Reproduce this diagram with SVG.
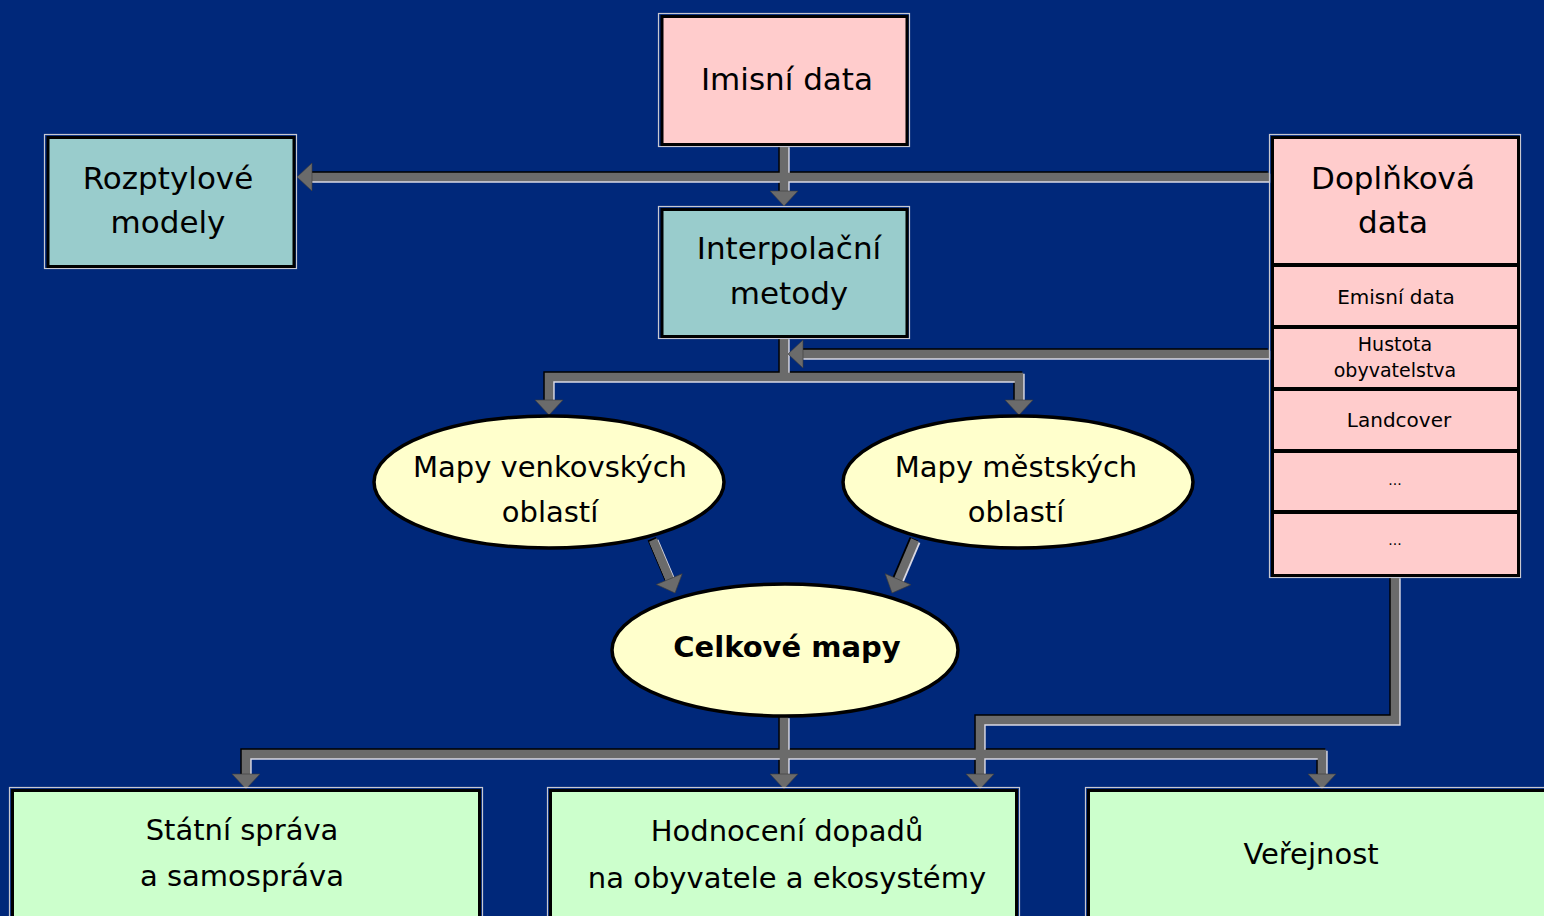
<svg xmlns="http://www.w3.org/2000/svg" xmlns:xlink="http://www.w3.org/1999/xlink" width="1544" height="916" viewBox="0 0 1544 916">
<style>
text{font-family:"DejaVu Sans",sans-serif;fill:#000;text-anchor:middle}
.t31{font-size:31px}
.t29{font-size:29px}
.t20{font-size:20px}
.t19{font-size:19px}
.t14{font-size:14px}
.b{font-weight:bold}
.edge{fill:none;stroke:#c8c8d0;stroke-width:1.2}
.box{stroke:#000;stroke-width:3}
.pink{fill:#ffcccc}
.teal{fill:#99cccc}
.green{fill:#ccffcc}
.ell{fill:#ffffcc;stroke:#000;stroke-width:3.5}
.sep{stroke:#000;stroke-width:4}
.ah{fill:#6b6b6b;stroke:#3a3a3a;stroke-width:0.6}
</style>
<defs>
<path id="c1" d="M784 146 V193"/>
<path id="c2" d="M1269 177 H310"/>
<path id="c3" d="M1269 354 H802"/>
<path id="c4" d="M784 338 V377"/>
<path id="c5" d="M549 401 V377 H1019 V401"/>
<path id="c6" d="M653 540 L670 580"/>
<path id="c7" d="M915 540 L898 580"/>
<path id="c8" d="M784 717 V776"/>
<path id="c9" d="M246 776 V754 H1322 V776"/>
<path id="c10" d="M1395 577 V720 H980 V776"/>
</defs>
<rect width="1544" height="916" fill="#00287a"/>

<g id="connectors" fill="none">
<g transform="translate(-1.2,-1.2)" stroke="#000" stroke-width="9">
<use href="#c1"/><use href="#c2"/><use href="#c3"/><use href="#c4"/><use href="#c5"/><use href="#c6"/><use href="#c7"/><use href="#c8"/><use href="#c9"/><use href="#c10"/>
</g>
<g transform="translate(1.2,1.2)" stroke="#d8d8e4" stroke-width="9">
<use href="#c1"/><use href="#c2"/><use href="#c3"/><use href="#c4"/><use href="#c5"/><use href="#c6"/><use href="#c7"/><use href="#c8"/><use href="#c9"/><use href="#c10"/>
</g>
<g stroke="#6b6b6b" stroke-width="8.5">
<use href="#c1"/><use href="#c2"/><use href="#c3"/><use href="#c4"/><use href="#c5"/><use href="#c6"/><use href="#c7"/><use href="#c8"/><use href="#c9"/><use href="#c10"/>
</g>
<g class="ah">
<polygon points="-14,-15 14,-15 0,0" transform="translate(784,206)"/>
<polygon points="-14,-15 14,-15 0,0" transform="translate(297,177) rotate(90)"/>
<polygon points="-14,-15 14,-15 0,0" transform="translate(788,354) rotate(90)"/>
<polygon points="-14,-15 14,-15 0,0" transform="translate(549,415)"/>
<polygon points="-14,-15 14,-15 0,0" transform="translate(1019,415)"/>
<polygon points="-14,-15 14,-15 0,0" transform="translate(675,593) rotate(-22.5)"/>
<polygon points="-14,-15 14,-15 0,0" transform="translate(892,593) rotate(23.5)"/>
<polygon points="-14,-15 14,-15 0,0" transform="translate(246,789)"/>
<polygon points="-14,-15 14,-15 0,0" transform="translate(784,789)"/>
<polygon points="-14,-15 14,-15 0,0" transform="translate(980,789)"/>
<polygon points="-14,-15 14,-15 0,0" transform="translate(1322,789)"/>
</g>
</g>

<g id="imisni">
<rect class="edge" x="658.5" y="13.5" width="251" height="133"/>
<rect class="box pink" x="662" y="16.5" width="245" height="128"/>
<text class="t31" x="787" y="90">Imisní data</text>
</g>

<g id="rozptylove">
<rect class="edge" x="44.5" y="134.5" width="252" height="134"/>
<rect class="box teal" x="48" y="137.5" width="246" height="129"/>
<text class="t31" x="168" y="189">Rozptylové</text>
<text class="t31" x="168" y="233">modely</text>
</g>

<g id="interpolacni">
<rect class="edge" x="658.5" y="206.5" width="251" height="132"/>
<rect class="box teal" x="662" y="209.5" width="245" height="127"/>
<text class="t31" x="789" y="259">Interpolační</text>
<text class="t31" x="789" y="304">metody</text>
</g>

<g id="doplnkova">
<rect class="edge" x="1269.5" y="134.5" width="251" height="443"/>
<rect class="box pink" x="1272.5" y="137.5" width="246" height="438"/>
<line class="sep" x1="1272" y1="265" x2="1519" y2="265"/>
<line class="sep" x1="1272" y1="327" x2="1519" y2="327"/>
<line class="sep" x1="1272" y1="389" x2="1519" y2="389"/>
<line class="sep" x1="1272" y1="451" x2="1519" y2="451"/>
<line class="sep" x1="1272" y1="512" x2="1519" y2="512"/>
<text class="t31" x="1393" y="189">Doplňková</text>
<text class="t31" x="1393" y="233">data</text>
<text class="t20" x="1396" y="304">Emisní data</text>
<text class="t19" x="1395" y="351">Hustota</text>
<text class="t19" x="1395" y="377">obyvatelstva</text>
<text class="t20" x="1399" y="427">Landcover</text>
<text class="t14" x="1395" y="485">...</text>
<text class="t14" x="1395" y="545">...</text>
</g>

<g id="venkov">
<ellipse class="ell" cx="549" cy="482" rx="175" ry="66"/>
<text class="t29" x="550" y="477">Mapy venkovských</text>
<text class="t29" x="550" y="522">oblastí</text>
</g>

<g id="mesto">
<ellipse class="ell" cx="1018" cy="482" rx="175" ry="66"/>
<text class="t29" x="1016" y="477">Mapy městských</text>
<text class="t29" x="1016" y="522">oblastí</text>
</g>

<g id="celkove">
<ellipse class="ell" cx="785" cy="650" rx="173" ry="66"/>
<text class="t29 b" x="787" y="657">Celkové mapy</text>
</g>

<g id="statni">
<rect class="edge" x="9.5" y="787.5" width="473" height="160"/>
<rect class="box green" x="12.5" y="790.5" width="467" height="160"/>
<text class="t29" x="242" y="840">Státní správa</text>
<text class="t29" x="242" y="886">a samospráva</text>
</g>

<g id="hodnoceni">
<rect class="edge" x="547.5" y="787.5" width="472" height="160"/>
<rect class="box green" x="550.5" y="790.5" width="466" height="160"/>
<text class="t29" x="787" y="841">Hodnocení dopadů</text>
<text class="t29" x="787" y="888">na obyvatele a ekosystémy</text>
</g>

<g id="verejnost">
<rect class="edge" x="1085.5" y="787.5" width="480" height="160"/>
<rect class="box green" x="1088.5" y="790.5" width="474" height="160"/>
<text class="t29" x="1311" y="864">Veřejnost</text>
</g>
</svg>
